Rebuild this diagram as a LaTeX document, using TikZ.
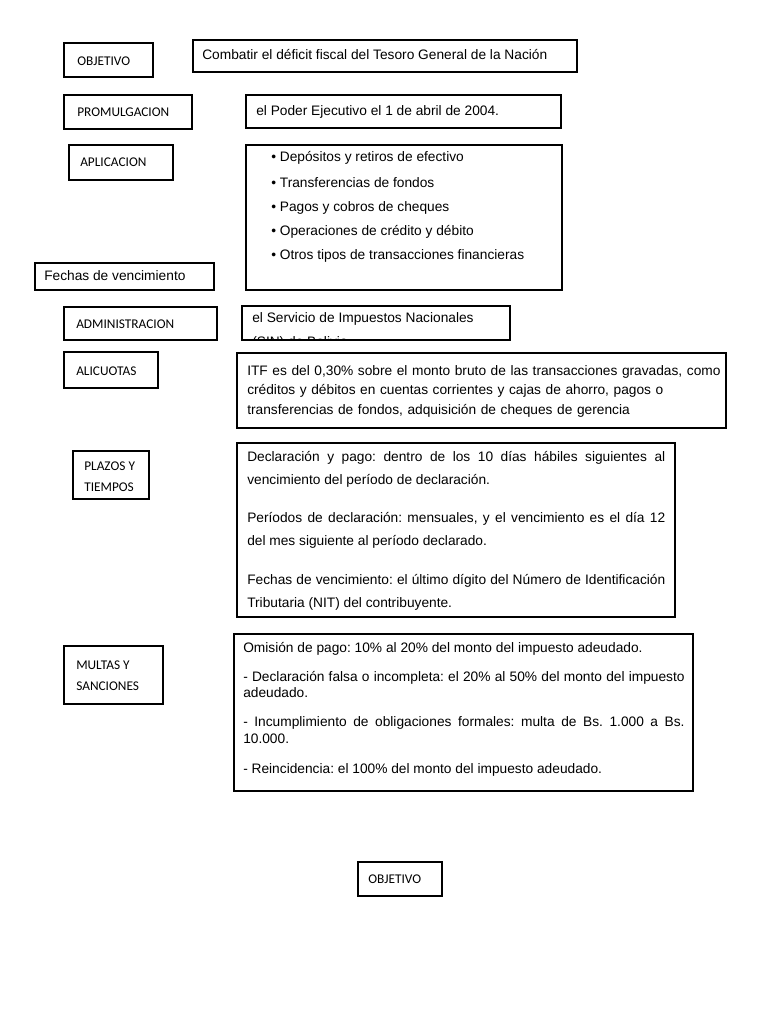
\documentclass[tikz,border=0pt]{standalone}
\usepackage{fontspec}
\setmainfont{Liberation Sans}
\newfontfamily\lblfont{Carlito}
\frenchspacing

\begin{document}
\begin{tikzpicture}[x=0.75pt,y=-0.75pt,
    box/.style={draw=black,line width=1.9pt},
    lbl/.style={font=\lblfont\fontsize{10}{15.75}\selectfont,inner sep=0pt,anchor=west,align=left},
    txt/.style={font=\fontsize{10.3}{12}\selectfont,inner sep=0pt,anchor=west},
    bodypar/.style={font=\fontsize{10.3}{#1}\selectfont,inner sep=0pt,anchor=base west,align=justify}]
                \fill[white] (0,0) rectangle (768,1024);

                % label boxes
                \draw[box] (64,43) rectangle (153,77);
                \draw[box] (64,95) rectangle (192,129);
                \draw[box] (69,145) rectangle (173,180);
                \draw[box] (35,263) rectangle (214,290);
                \draw[box] (64,307) rectangle (217,340);
                \draw[box] (64,352) rectangle (158,388);
                \draw[box] (73,451) rectangle (149,499);
                \draw[box] (64,646) rectangle (163,704);
                \draw[box] (358,862) rectangle (442,896);

                % text boxes
                \draw[box] (193,40) rectangle (577,72);
                \draw[box] (246,95) rectangle (561,128);
                \draw[box] (246,145) rectangle (562,290);
                \draw[box] (242,306) rectangle (510,340);
                \draw[box] (237,353) rectangle (726,428);
                \draw[box] (237,443) rectangle (675,617);
                \draw[box] (234,634) rectangle (693,791);

                \node[lbl] (objlbl) at (77,61) {OBJETIVO};
                \node[lbl] (promlbl) at (77,112) {PROMULGACION};
                \node[lbl] (aplilbl) at (80,162) {APLICACION};
                \node[lbl] (admlbl) at (76,324) {ADMINISTRACION};
                \node[lbl] (alilbl) at (76,371) {ALICUOTAS};
                \node[lbl] (plazlbl) at (84,476.5) {PLAZOS Y\\TIEMPOS};
                \node[lbl] (multlbl) at (76,675.5) {MULTAS Y\\SANCIONES};
                \node[lbl] (objlbl2) at (368,879) {OBJETIVO};

                \node[txt] (objtxt) at (202,55) {Combatir el déficit fiscal del Tesoro General de la Nación};
                \node[txt] (promtxt) at (256,112) {el Poder Ejecutivo el 1 de abril de 2004.};

                \node[txt] (apli1) at (271,158) {\textbullet\ Depósitos y retiros de efectivo};
                \node[txt] (apli2) at (271,183) {\textbullet\ Transferencias de fondos};
                \node[txt] (apli3) at (271,208) {\textbullet\ Pagos y cobros de cheques};
                \node[txt] (apli4) at (271,232) {\textbullet\ Operaciones de crédito y débito};
                \node[txt] (apli5) at (271,256) {\textbullet\ Otros tipos de transacciones financieras};

                \node[txt] (fechtxt) at (44,276) {Fechas de vencimiento};

                \node[txt] (admtxt) at (252,319) {el Servicio de Impuestos Nacionales};
                \begin{scope}
                \clip (242,306) rectangle (510,338);
                \node[txt,anchor=base west] (admtxt2) at (252,346.5) {(SIN) de Bolivia};
                \end{scope}

                \node[bodypar=14.6,align=left,text width=360pt] (alitxt) at (247,375.5) {ITF es del 0,30\% sobre el monto bruto de las transacciones gravadas, como\\créditos y débitos en cuentas corrientes y cajas de ahorro, pagos o\\transferencias de fondos, adquisición de cheques de gerencia};

                \node[bodypar=17.6,text width=313.5pt] (plaz1) at (247,461.5) {Declaración y pago: dentro de los 10 días hábiles siguientes al\linebreak vencimiento del período de declaración.};
                \node[bodypar=17.6,text width=313.5pt] (plaz2) at (247,522.5) {Períodos de declaración: mensuales, y el vencimiento es el día 12\linebreak del mes siguiente al período declarado.};
                \node[bodypar=17.6,text width=313.5pt] (plaz3) at (247,584.5) {Fechas de vencimiento: el último dígito del Número de Identificación\linebreak Tributaria (NIT) del contribuyente.};

                \node[bodypar=12,text width=331pt] (mult1) at (243,652.5) {Omisión de pago: 10\% al 20\% del monto del impuesto adeudado.};
                \node[bodypar=12,text width=331pt] (mult2) at (243,681.5) {- Declaración falsa o incompleta: el 20\% al 50\% del monto del impuesto\linebreak adeudado.};
                \node[bodypar=12.8,text width=331pt] (mult3) at (243,726) {- Incumplimiento de obligaciones formales: multa de Bs. 1.000 a Bs.\linebreak 10.000.};
                \node[bodypar=12,text width=331pt] (mult4) at (243,773.5) {- Reincidencia: el 100\% del monto del impuesto adeudado.};
            \end{tikzpicture}
\end{document}
